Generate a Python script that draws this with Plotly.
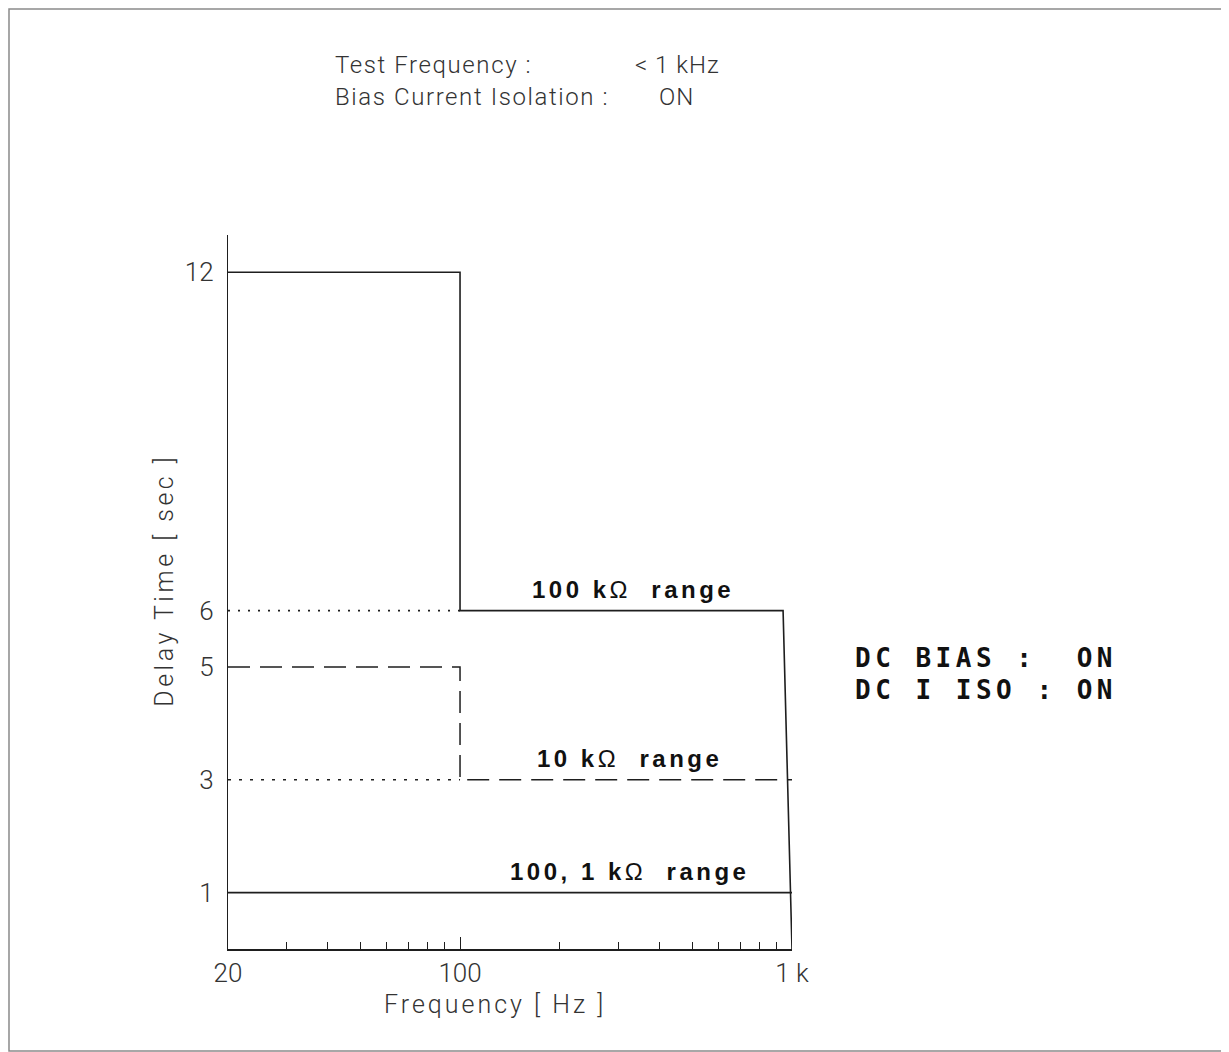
import math
import plotly.graph_objects as go

# ---- data ----
freq_100k = [20, 100, 100, 940, 1000]
delay_100k = [12, 12, 6, 6, 0]

freq_10k = [20, 100, 100, 1000]
delay_10k = [5, 5, 3, 3]

freq_1k = [20, 1000]
delay_1k = [1, 1]

freq_dot6 = [20, 100]
delay_dot6 = [6, 6]
freq_dot3 = [20, 100]
delay_dot3 = [3, 3]

y_tickvals = [1, 3, 5, 6, 12]
x_tickvals = [20, 100, 1000]
x_ticktext = ["20", "100", "1 k"]
x_minor = [30, 40, 50, 60, 70, 80, 90, 200, 300, 400, 500, 600, 700, 800, 900]

range_labels = ["100 kΩ  range", "10 kΩ  range", "100, 1 kΩ  range"]
range_label_freq = [332, 325, 325]
range_label_delay = [6, 3, 1]

header_labels = ["Test Frequency :", "Bias Current Isolation :"]
header_values = ["< 1 kHz", "ON"]
status_lines = ["DC BIAS :  ON", "DC I ISO : ON"]

# ---- figure ----
LINE = "#1e1e1e"
TXT = "#333333"
LIGHT = "Roboto"

fig = go.Figure()
fig.add_trace(go.Scatter(x=freq_dot6, y=delay_dot6, mode="lines",
                         line=dict(color=LINE, width=1.6, dash="2px,8px")))
fig.add_trace(go.Scatter(x=freq_dot3, y=delay_dot3, mode="lines",
                         line=dict(color=LINE, width=1.6, dash="3px,8px")))
fig.add_trace(go.Scatter(x=freq_10k, y=delay_10k, mode="lines",
                         line=dict(color=LINE, width=1.5, dash="22px,10px")))
fig.add_trace(go.Scatter(x=freq_1k, y=delay_1k, mode="lines",
                         line=dict(color=LINE, width=1.6)))
fig.add_trace(go.Scatter(x=freq_100k, y=delay_100k, mode="lines",
                         line=dict(color=LINE, width=1.6)))


def range_html(txt):
    # bold text, but the Ω sign drawn in a lighter weight as in the reference
    parts = txt.split("Ω")
    return ("<span style='letter-spacing:3.5px'><b>" + parts[0] + "</b>Ω<b>"
            + parts[1] + "</b></span>")


annotations = []
for txt, f, d in zip(range_labels, range_label_freq, range_label_delay):
    annotations.append(dict(
        x=math.log10(f), y=d, xref="x", yref="y",
        text=range_html(txt),
        showarrow=False, xanchor="center", yanchor="middle", yshift=21,
        font=dict(family="Liberation Sans, Arial", size=24, color="#111111")))

hx = [0.186, 0.718]
hy = [1.238, 1.193]
val_x = [0.718, 0.761]
for i in range(2):
    annotations.append(dict(
        x=hx[0], y=hy[i], xref="paper", yref="paper",
        text="<span style='letter-spacing:1.6px'>" + header_labels[i] + "</span>",
        showarrow=False, xanchor="left", yanchor="middle",
        font=dict(family=LIGHT, size=24, color=TXT, weight=300)))
    annotations.append(dict(
        x=val_x[i], y=hy[i], xref="paper", yref="paper",
        text="<span style='letter-spacing:1px'>" + header_values[i] + "</span>",
        showarrow=False, xanchor="left", yanchor="middle",
        font=dict(family=LIGHT, size=24, color=TXT, weight=300)))

sy = [0.4076, 0.3627]
for i, s in enumerate(status_lines):
    annotations.append(dict(
        x=1.108, y=sy[i], xref="paper", yref="paper",
        text="<b><span style='letter-spacing:4.5px'>" + s.replace(" ", "&nbsp;") + "</span></b>",
        showarrow=False, xanchor="left", yanchor="middle",
        font=dict(family="DejaVu Sans Mono", size=26, color="#111111")))

# axis titles
annotations.append(dict(
    x=0.473, y=-0.0784, xref="paper", yref="paper",
    text="<span style='letter-spacing:3px'>Frequency [ Hz ]</span>",
    showarrow=False, xanchor="center", yanchor="middle",
    font=dict(family=LIGHT, size=25, color=TXT, weight=300)))
annotations.append(dict(
    x=-0.112, y=0.517, xref="paper", yref="paper",
    text="<span style='letter-spacing:3.5px'>Delay Time [ sec ]</span>",
    showarrow=False, xanchor="center", yanchor="middle", textangle=-90,
    font=dict(family=LIGHT, size=25, color=TXT, weight=300)))

fig.update_layout(
    width=1221, height=1044,
    margin=dict(l=220, r=437, t=227, b=103),
    paper_bgcolor="white", plot_bgcolor="white",
    showlegend=False,
    annotations=annotations,
    shapes=[dict(type="rect", xref="paper", yref="paper",
                 x0=-0.3883, x1=1.7642, y0=-0.1429, y1=1.3165,
                 line=dict(color="#8a8a8a", width=1.5))],
)
fig.update_xaxes(
    type="log", range=[math.log10(20), 3],
    tickvals=x_tickvals, ticktext=x_ticktext,
    ticks="inside", ticklen=12, tickwidth=1.3, tickcolor=LINE,
    minor=dict(tickvals=x_minor, ticks="inside", ticklen=7, tickwidth=1.2, tickcolor=LINE),
    showline=True, linecolor=LINE, linewidth=1.6,
    showgrid=False, zeroline=False, ticklabelstandoff=0,
    tickfont=dict(family=LIGHT, size=26, color=TXT, weight=300),
)
fig.update_yaxes(
    range=[0, 12.66], tickvals=y_tickvals,
    ticks="", showline=True, linecolor=LINE, linewidth=1.4,
    showgrid=False, zeroline=False, ticklabelstandoff=8,
    tickfont=dict(family=LIGHT, size=26, color=TXT, weight=300),
)

fig.write_html("out.html")
